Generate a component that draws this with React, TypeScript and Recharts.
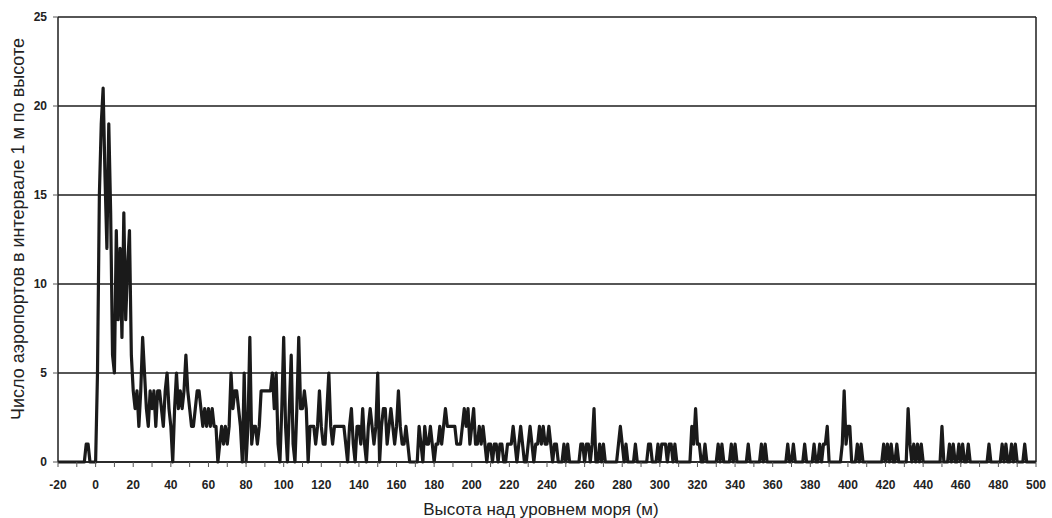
import {
  LineChart,
  Line,
  XAxis,
  YAxis,
  CartesianGrid,
  ReferenceLine,
  Label,
} from "recharts";

// Number of airports per 1 m of elevation, starting at -20 m
const START_ELEVATION = -20;

const countsBelow0 = [
  0, 0, 0, 0, 0, 0, 0, 0, 0, 0,
  0, 0, 0, 0, 0, 1, 1, 0, 0, 0,
];

const counts0to99 = [
  0, 5, 15, 19, 21, 16, 12, 19, 14, 6,
  5, 13, 8, 12, 7, 14, 8, 11, 13, 6,
  4, 3, 4, 2, 4, 7, 5, 3, 2, 4,
  3, 4, 2, 4, 4, 3, 2, 4, 5, 3,
  2, 0, 3, 5, 3, 4, 3, 4, 6, 4,
  3, 2, 2, 3, 4, 4, 3, 2, 3, 2,
  3, 2, 3, 2, 2, 0, 1, 2, 1, 2,
  1, 2, 5, 3, 4, 4, 3, 2, 0, 5,
  0, 2, 7, 1, 2, 2, 1, 2, 4, 4,
  4, 4, 4, 4, 5, 3, 5, 1, 0, 3,
];

const counts100to199 = [
  7, 2, 0, 3, 6, 1, 0, 3, 7, 3,
  3, 4, 3, 0, 2, 2, 2, 1, 2, 4,
  2, 1, 1, 3, 5, 2, 1, 2, 2, 2,
  2, 2, 2, 1, 0, 2, 3, 1, 0, 2,
  2, 1, 3, 1, 0, 2, 3, 2, 1, 2,
  5, 0, 2, 3, 3, 1, 2, 3, 2, 1,
  2, 4, 2, 1, 1, 2, 1, 0, 0, 0,
  0, 0, 2, 1, 0, 2, 1, 1, 2, 1,
  0, 1, 1, 2, 1, 2, 3, 2, 2, 2,
  2, 2, 1, 1, 1, 2, 3, 2, 3, 1,
];

const counts200to299 = [
  2, 3, 1, 1, 2, 1, 2, 1, 0, 1,
  1, 0, 1, 1, 0, 1, 1, 0, 0, 1,
  1, 1, 2, 1, 0, 1, 2, 1, 0, 0,
  1, 2, 1, 0, 1, 1, 2, 1, 2, 1,
  1, 2, 1, 0, 1, 1, 0, 0, 0, 1,
  0, 1, 0, 0, 0, 0, 0, 0, 1, 1,
  0, 1, 1, 0, 1, 3, 0, 0, 1, 0,
  1, 0, 0, 0, 0, 0, 0, 0, 1, 2,
  1, 0, 1, 0, 0, 0, 0, 1, 0, 0,
  0, 0, 0, 0, 1, 1, 0, 0, 0, 1,
];

const counts300to399 = [
  0, 1, 1, 1, 0, 1, 1, 0, 1, 0,
  0, 0, 0, 0, 0, 0, 0, 2, 1, 3,
  1, 1, 0, 0, 1, 0, 0, 0, 0, 0,
  0, 1, 0, 1, 0, 0, 0, 0, 1, 0,
  1, 0, 0, 0, 0, 0, 0, 1, 0, 0,
  0, 0, 0, 0, 1, 0, 1, 0, 0, 0,
  0, 0, 0, 0, 0, 0, 0, 0, 1, 0,
  0, 1, 0, 0, 0, 0, 0, 1, 0, 0,
  0, 0, 1, 0, 0, 1, 0, 1, 1, 2,
  0, 0, 0, 0, 0, 0, 0, 1, 4, 1,
];

const counts400to500 = [
  2, 2, 0, 0, 0, 1, 0, 1, 0, 0,
  0, 0, 0, 0, 0, 0, 0, 0, 0, 1,
  0, 1, 0, 1, 0, 0, 1, 0, 0, 0,
  0, 0, 3, 1, 0, 1, 0, 1, 0, 1,
  0, 0, 0, 0, 0, 0, 0, 0, 0, 0,
  2, 0, 0, 0, 1, 0, 1, 0, 0, 1,
  0, 1, 0, 0, 1, 0, 0, 0, 0, 0,
  0, 0, 0, 0, 0, 1, 0, 0, 0, 0,
  0, 0, 1, 0, 1, 0, 0, 1, 0, 1,
  0, 0, 0, 0, 1, 0, 0, 0, 0, 0,
  0,
];

const xTicks = [
  -20, -10, 0, 10, 20, 30, 40, 50, 60, 70, 80, 90, 100, 110, 120, 130, 140,
  150, 160, 170, 180, 190, 200, 210, 220, 230, 240, 250, 260, 270, 280, 290,
  300, 310, 320, 330, 340, 350, 360, 370, 380, 390, 400, 410, 420, 430, 440,
  450, 460, 470, 480, 490, 500,
];
const yTicks = [0, 5, 10, 15, 20, 25];

const xTitle = "Высота над уровнем моря (м)";
const yTitle = "Число аэропортов в интервале 1 м по высоте";

const counts = [
  ...countsBelow0,
  ...counts0to99,
  ...counts100to199,
  ...counts200to299,
  ...counts300to399,
  ...counts400to500,
];

const data = counts.map((count, i) => ({
  elevation: START_ELEVATION + i,
  count,
}));

const FONT = "'Liberation Sans', Arial, sans-serif";
const INK = "#1e1e1e";
const tickStyle = { fontSize: 12, fontWeight: 700, fill: "#222", fontFamily: FONT };

export default function App() {
  return (
    <div style={{ position: "absolute", left: 0, top: 0, background: "#fff" }}>
      <LineChart
        width={1052}
        height={518}
        data={data}
        margin={{ top: 17, right: 16, left: 0, bottom: 0 }}
      >
        <CartesianGrid
          vertical={false}
          stroke={INK}
          strokeWidth={1.5}
          strokeOpacity={1}
        />
        <XAxis
          dataKey="elevation"
          type="number"
          domain={[-20, 500]}
          ticks={xTicks}
          interval={0}
          height={56}
          tickSize={5}
          tickMargin={13}
          tick={tickStyle}
          tickFormatter={(v: number) => (v % 20 === 0 ? String(v) : "")}
          axisLine={{ stroke: INK, strokeWidth: 1.5 }}
          tickLine={{ stroke: "#555" }}
        >
          <Label
            content={() => (
              <text
                x={541}
                y={515}
                textAnchor="middle"
                fontFamily={FONT}
                fontSize={17}
                fill="#222"
              >
                {xTitle}
              </text>
            )}
          />
        </XAxis>
        <YAxis
          type="number"
          domain={[0, 25]}
          ticks={yTicks}
          interval={0}
          width={58}
          tickSize={5}
          tickMargin={6}
          tick={tickStyle}
          axisLine={{ stroke: INK, strokeWidth: 1.5 }}
          tickLine={{ stroke: "#555" }}
        >
          <Label
            content={() => (
              <text
                x={24}
                y={229}
                transform="rotate(-90 24 229)"
                textAnchor="middle"
                fontFamily={FONT}
                fontSize={18}
                fill="#222"
              >
                {yTitle}
              </text>
            )}
          />
        </YAxis>
        <ReferenceLine x={500} stroke={INK} strokeWidth={1.5} />
        <Line
          type="linear"
          dataKey="count"
          stroke="#1a1a1a"
          strokeWidth={3.2}
          strokeLinejoin="round"
          dot={false}
          activeDot={false}
          isAnimationActive={false}
        />
      </LineChart>
    </div>
  );
}
